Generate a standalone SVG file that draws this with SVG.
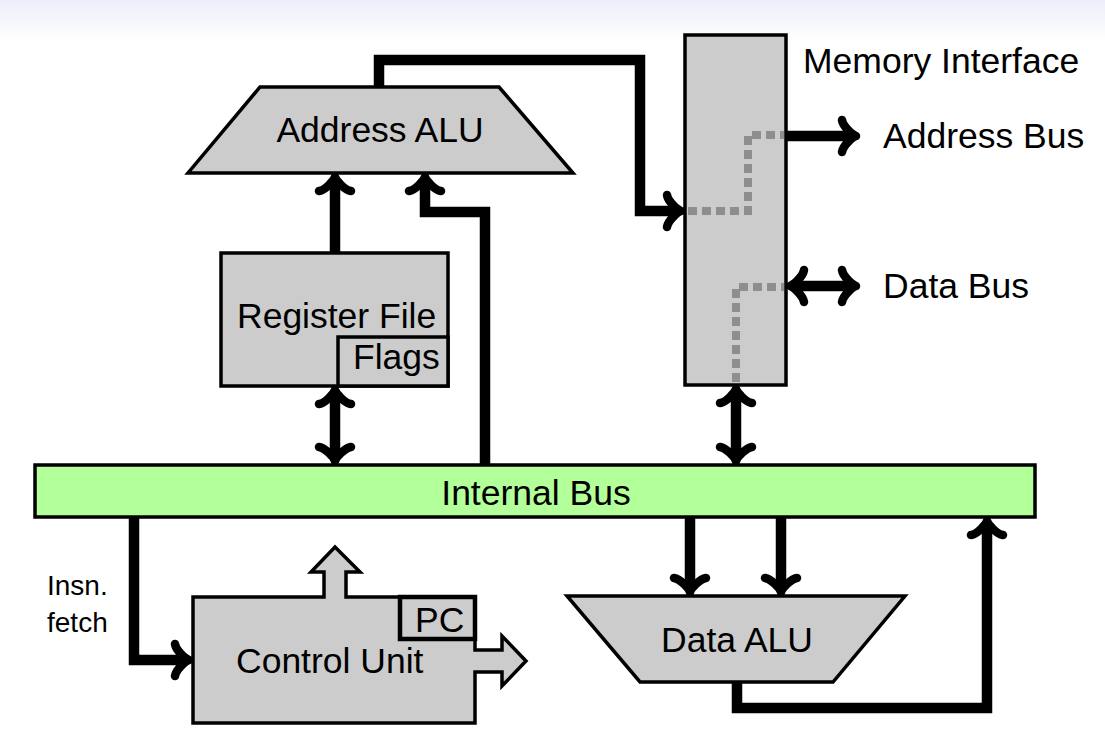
<svg xmlns="http://www.w3.org/2000/svg" width="1105" height="740" viewBox="0 0 1105 740">
<defs>
<linearGradient id="band" x1="0" y1="0" x2="0" y2="1">
<stop offset="0" stop-color="#eceefa"/>
<stop offset="1" stop-color="#ffffff"/>
</linearGradient>
<marker id="arr" markerUnits="userSpaceOnUse" viewBox="-16 -23 28 46" markerWidth="28" markerHeight="46" refX="0" refY="0" orient="auto-start-reverse">
<path d="M -10,-16 C -9,-9.5 0.5,-1.2 4,0 C 0.5,1.2 -9,9.5 -10,16" fill="none" stroke="#000" stroke-width="8.5" stroke-linecap="round" stroke-linejoin="round"/>
</marker>
<style>
.box{fill:#cccccc;stroke:#000;stroke-width:3.5;stroke-linejoin:miter}
.lbl{font-family:"Liberation Sans",Arial,sans-serif;font-size:35.5px;fill:#000}
.small{font-family:"Liberation Sans",Arial,sans-serif;font-size:28px;fill:#000}
.wire{fill:none;stroke:#000;stroke-width:10.5;stroke-linejoin:miter}
.end{marker-end:url(#arr)}
.both{marker-start:url(#arr);marker-end:url(#arr)}
.dots{fill:none;stroke:#8e8e8e;stroke-width:8;stroke-dasharray:9 5}
</style>
</defs>
<rect x="0" y="0" width="1105" height="740" fill="#ffffff"/>
<rect x="0" y="0" width="1105" height="42" fill="url(#band)"/>

<g id="address-alu">
<polygon class="box" points="260,87 499,87 573,173 188,173"/>
<text class="lbl" x="380" y="142" text-anchor="middle">Address ALU</text>
</g>

<g id="memory-interface">
<rect class="box" x="685" y="35" width="101" height="350"/>
<path class="dots" d="M 688,211 H 748 V 135 H 784"/>
<path class="dots" d="M 736,382 V 287 H 784"/>
<text class="lbl" x="803" y="73">Memory Interface</text>
</g>

<g id="address-bus-label">
<text class="lbl" x="883" y="148">Address Bus</text>
</g>
<g id="data-bus-label">
<text class="lbl" x="883" y="298">Data Bus</text>
</g>

<g id="register-file">
<rect class="box" x="221" y="253" width="227" height="133"/>
<text class="lbl" x="237" y="328">Register File</text>
<g id="flags">
<rect class="box" x="338" y="337" width="110" height="49"/>
<text class="lbl" x="353" y="369">Flags</text>
</g>
</g>

<g id="internal-bus">
<rect x="35" y="465" width="1000" height="52" fill="#b3ff99" stroke="#000" stroke-width="3.5"/>
<text class="lbl" x="536" y="505" text-anchor="middle">Internal Bus</text>
</g>

<g id="data-alu">
<polygon class="box" points="567,596 905,596 833,682 640,682"/>
<text class="lbl" x="737" y="652" text-anchor="middle">Data ALU</text>
</g>

<g id="control-unit">
<path class="box" d="M 193,597 H 324 V 572 H 311 L 335,547 L 360,572 H 346 V 597 H 475 V 650 H 502 V 636 L 526,661 L 502,686 V 672 H 475 V 723 H 193 Z"/>
<text class="lbl" x="236" y="673">Control Unit</text>
<g id="pc">
<rect x="400" y="597" width="75" height="42" fill="#cccccc" stroke="#000" stroke-width="4.5"/>
<text class="lbl" x="415" y="632">PC</text>
</g>
</g>

<g id="insn-fetch-label">
<text class="small" x="47" y="595">Insn.</text>
<text class="small" x="47" y="632">fetch</text>
</g>

<g id="connectors">
<path class="wire end" d="M 379,88 V 60 H 640 V 211 H 677"/>
<path class="wire end" d="M 335,253 V 181"/>
<path class="wire end" d="M 485,465 V 212 H 425 V 181"/>
<path class="wire both" d="M 335,394 V 457"/>
<path class="wire both" d="M 736,393 V 457"/>
<path class="wire end" d="M 786,136 H 852"/>
<path class="wire both" d="M 794,286 H 852"/>
<path class="wire end" d="M 690,517 V 588"/>
<path class="wire end" d="M 781,517 V 588"/>
<path class="wire end" d="M 737,682 V 708 H 987 V 525"/>
<path class="wire end" d="M 134,517 V 660 H 185"/>
</g>
</svg>
